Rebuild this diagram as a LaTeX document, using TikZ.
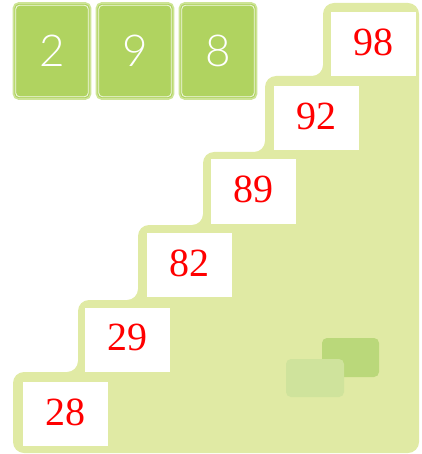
\documentclass[tikz,border=0pt]{standalone}
\usepackage{fontspec}
\newfontfamily\redfont{Liberation Serif}
\newfontfamily\cardfont{Lato}[UprightFont=* Light]
\definecolor{stair}{RGB}{224,234,164}
\definecolor{cardgreen}{RGB}{176,211,96}
\definecolor{cardedge}{RGB}{205,228,150}
\definecolor{darkrect}{RGB}{186,216,122}
\definecolor{lightrect}{RGB}{207,227,156}
\tikzset{
  card/.style={fill=cardgreen, draw=cardedge, line width=1.6pt, rounded corners=5pt,
    minimum width=77pt, minimum height=96pt, inner sep=0pt, text=white,
    font=\cardfont\fontsize{44}{44}\selectfont},
  numbox/.style={fill=white, minimum width=85pt, minimum height=64pt, inner sep=0pt,
    text=red, text depth=4pt, font=\redfont\fontsize{40}{40}\selectfont},
  inner/.style={draw=white!85!cardgreen, line width=0.8pt, rounded corners=4pt}
}
\begin{document}
\begin{tikzpicture}[x=1pt,y=-1pt]
\useasboundingbox (0,0) rectangle (421,454);
% staircase background
\fill[stair, rounded corners=11pt]
  (13,453) -- (13,372) -- (78,372) -- (78,300) -- (138,300) -- (138,225)
  -- (203,225) -- (203,152) -- (265,152) -- (265,76) -- (323,76) -- (323,3)
  -- (419,3) -- (419,453) -- cycle;
% small rectangles
\fill[darkrect, rounded corners=5pt] (322,338) rectangle (379,377);
\fill[lightrect, rounded corners=5pt] (286,359) rectangle (344,397);
% cards
\node[card] (c1) at (52,51) {2};
\node[card] (c2) at (135,51) {9};
\node[card] (c3) at (218,51) {8};
\foreach \c in {c1,c2,c3}{
  \draw[inner] ([shift={(3pt,-3pt)}]\c.north west) rectangle ([shift={(-3pt,3pt)}]\c.south east);
}
% number boxes
\node[numbox] (n28) at (65,414) {28};
\node[numbox] (n29) at (127.5,339.5) {29};
\node[numbox] (n82) at (189.5,265) {82};
\node[numbox] (n89) at (253.5,191.5) {89};
\node[numbox] (n92) at (316.5,118) {92};
\node[numbox] (n98) at (373.5,44.5) {98};
\end{tikzpicture}
\end{document}
